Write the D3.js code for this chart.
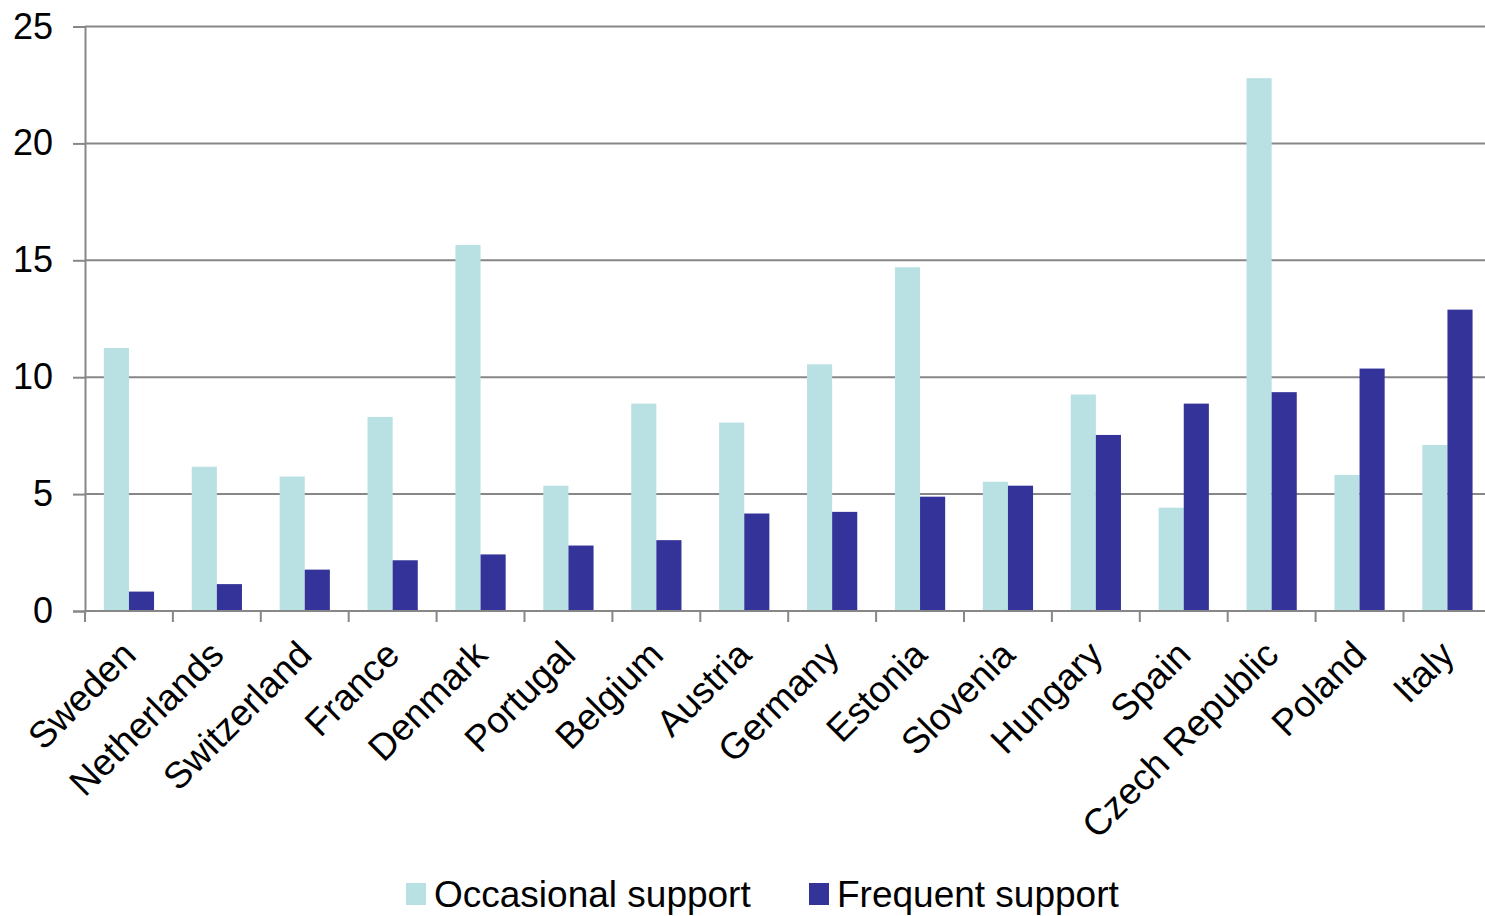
<!DOCTYPE html>
<html><head><meta charset="utf-8">
<script src="https://cdn.jsdelivr.net/npm/d3@7"></script>
<style>
html,body{margin:0;padding:0;background:#fff;}
svg text{font-family:"Liberation Sans",Arial,sans-serif;fill:#000;}
</style>
</head><body>
<svg id="chart" width="1485" height="916"></svg>
<script>
const countries = ["Sweden","Netherlands","Switzerland","France","Denmark","Portugal","Belgium","Austria","Germany","Estonia","Slovenia","Hungary","Spain","Czech Republic","Poland","Italy"];
const seriesNames = ["Occasional support","Frequent support"];
const occasional = [11.25,6.17,5.75,8.3,15.66,5.36,8.87,8.06,10.55,14.7,5.53,9.26,4.42,22.79,5.82,7.1];
const frequent = [0.83,1.15,1.77,2.17,2.42,2.8,3.03,4.17,4.24,4.89,5.36,7.53,8.87,9.36,10.37,12.89];
const yTicks = [0,5,10,15,20,25];
const colors = ["#B9E0E3","#343399"];

const svg = d3.select("#chart");
const mLeft = 85, mRight = 85 + 16*87.9, mTop = 26.5, mBottom = 611;

const x0 = d3.scaleBand().domain(countries).range([mLeft, mRight]).padding(0);
const x1 = d3.scaleBand().domain(seriesNames).range([0, x0.bandwidth()]).paddingInner(0).paddingOuter(0.75);
const y = d3.scaleLinear().domain([0,25]).range([mBottom, mTop]);

// gridlines
svg.append("g").selectAll("line").data(yTicks.filter(d=>d>0)).join("line")
  .attr("x1", mLeft).attr("x2", 1485)
  .attr("y1", d=>y(d)).attr("y2", d=>y(d))
  .attr("stroke", "#878787").attr("stroke-width", 2);

// y axis
const yAxis = svg.append("g").attr("transform", `translate(${mLeft},0)`)
  .call(d3.axisLeft(y).tickValues(yTicks).tickSize(12).tickPadding(20));
yAxis.select(".domain").attr("stroke","#878787").attr("stroke-width",2);
yAxis.selectAll(".tick line").attr("stroke","#878787").attr("stroke-width",2);
yAxis.selectAll(".tick text").attr("font-size", 36).attr("font-family", '"Liberation Sans",Arial,sans-serif').attr("fill","#000");

// bars
const data = countries.map((c,i)=>({c, vals:[occasional[i], frequent[i]]}));
const groups = svg.append("g").selectAll("g").data(data).join("g")
  .attr("transform", d=>`translate(${x0(d.c)},0)`);
groups.selectAll("rect").data(d=>d.vals.map((v,j)=>({s:seriesNames[j], v, j}))).join("rect")
  .attr("x", d=>x1(d.s)).attr("width", x1.bandwidth())
  .attr("y", d=>y(d.v)).attr("height", d=>y(0)-y(d.v))
  .attr("fill", d=>colors[d.j]);

// x axis line
svg.append("line").attr("x1", mLeft).attr("x2", 1485).attr("y1", mBottom).attr("y2", mBottom)
  .attr("stroke","#878787").attr("stroke-width",2);
// x ticks at category boundaries
const boundaries = countries.map(c=>x0(c)).concat([mRight]);
svg.append("g").selectAll("line").data(boundaries).join("line")
  .attr("x1", d=>d).attr("x2", d=>d).attr("y1", mBottom).attr("y2", mBottom+11)
  .attr("stroke","#878787").attr("stroke-width",2);

// x labels
svg.append("g").selectAll("text").data(countries).join("text")
  .attr("transform", d=>`translate(${x0(d)+x0.bandwidth()/2+9},${mBottom+46}) rotate(-45)`)
  .attr("text-anchor","end")
  .attr("font-size", 37)
  .text(d=>d);

// legend
const legendItems = [{name:seriesNames[0], x:406, color:colors[0]},{name:seriesNames[1], x:809, color:colors[1]}];
const lg = svg.append("g").selectAll("g").data(legendItems).join("g")
  .attr("transform", d=>`translate(${d.x},0)`);
lg.append("rect").attr("x",0).attr("y",883).attr("width",20).attr("height",22).attr("fill", d=>d.color);
lg.append("text").attr("x",28).attr("y",907).attr("font-size",37).text(d=>d.name);
</script>
</body></html>
